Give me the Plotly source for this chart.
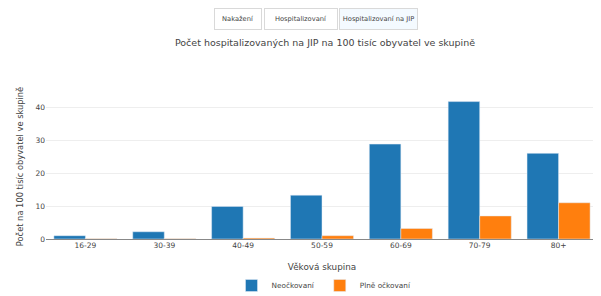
import plotly.graph_objects as go

categories = ["16-29", "30-39", "40-49", "50-59", "60-69", "70-79", "80+"]
neockovani = [1.0, 2.2, 9.9, 13.3, 28.8, 41.7, 26.0]
plne_ockovani = [0.1, 0.1, 0.3, 1.0, 3.2, 7.0, 11.0]
y_ticks = [0, 10, 20, 30, 40]
button_labels = ["Nakažení", "Hospitalizovaní", "Hospitalizovaní na JIP"]
active_button = 2

FONT = "DejaVu Sans, Verdana, sans-serif"

# figure geometry (page body has an 8px margin, so the figure is offset by 8px)
W, H = 593, 288
L, R, T, B = 38, 3, 86, 57
PW, PH = W - L - R, H - T - B


def px_to_paper_x(px):
    return (px - 8 - L) / PW


def px_to_paper_y(py):
    return (H - B - (py - 8)) / PH


fig = go.Figure()
fig.add_trace(go.Bar(x=categories, y=neockovani, name="Neočkovaní", marker_color="#1f77b4"))
fig.add_trace(go.Bar(x=categories, y=plne_ockovani, name="Plně očkovaní", marker_color="#ff7f0e"))

# menu buttons drawn as bordered text boxes: (left px, right px)
button_boxes = [(214, 262), (264, 338), (339, 418)]
annotations = []
for i, (lab, (x0, x1)) in enumerate(zip(button_labels, button_boxes)):
    annotations.append(dict(
        text=lab,
        xref="paper", yref="paper",
        x=px_to_paper_x((x0 + x1) / 2), y=px_to_paper_y(18.5),
        xanchor="center", yanchor="middle",
        showarrow=False,
        width=x1 - x0 - 2, height=20,
        borderpad=0, borderwidth=1,
        bordercolor="#d9d9d9",
        bgcolor="#F4FAFF" if i == active_button else "white",
        font=dict(size=6.7, family=FONT, color="#444"),
    ))

fig.update_layout(
    width=W, height=H,
    margin=dict(l=L, r=R, t=T, b=B, autoexpand=False),
    barmode="group",
    bargap=0.2,
    paper_bgcolor="white",
    plot_bgcolor="white",
    font=dict(family=FONT, color="#444", size=8),
    title=dict(
        text="Počet hospitalizovaných na JIP na 100 tisíc obyvatel ve skupině",
        x=(325 - 8) / W, xanchor="center", y=1 - (43 - 8) / H, yanchor="middle", yref="container",
        font=dict(size=9.5, family=FONT, color="#444"),
    ),
    xaxis=dict(
        title=dict(text="Věková skupina", standoff=15, font=dict(size=8.8)),
        tickfont=dict(size=7.5),
        showgrid=False,
        showline=False,
        automargin=False,
    ),
    yaxis=dict(
        title=dict(text="Počet na 100 tisíc obyvatel ve skupině", standoff=10, font=dict(size=8.3)),
        range=[0, 44],
        tickvals=y_ticks,
        tickfont=dict(size=7.5),
        gridcolor="#eeeeee",
        zeroline=True,
        zerolinecolor="#888",
        zerolinewidth=1,
        automargin=False,
    ),
    legend=dict(
        orientation="h", x=px_to_paper_x(324), xanchor="center",
        y=px_to_paper_y(285.5), yanchor="middle",
        font=dict(size=7.3),
    ),
    annotations=annotations,
)

fig.write_html("out.html")
